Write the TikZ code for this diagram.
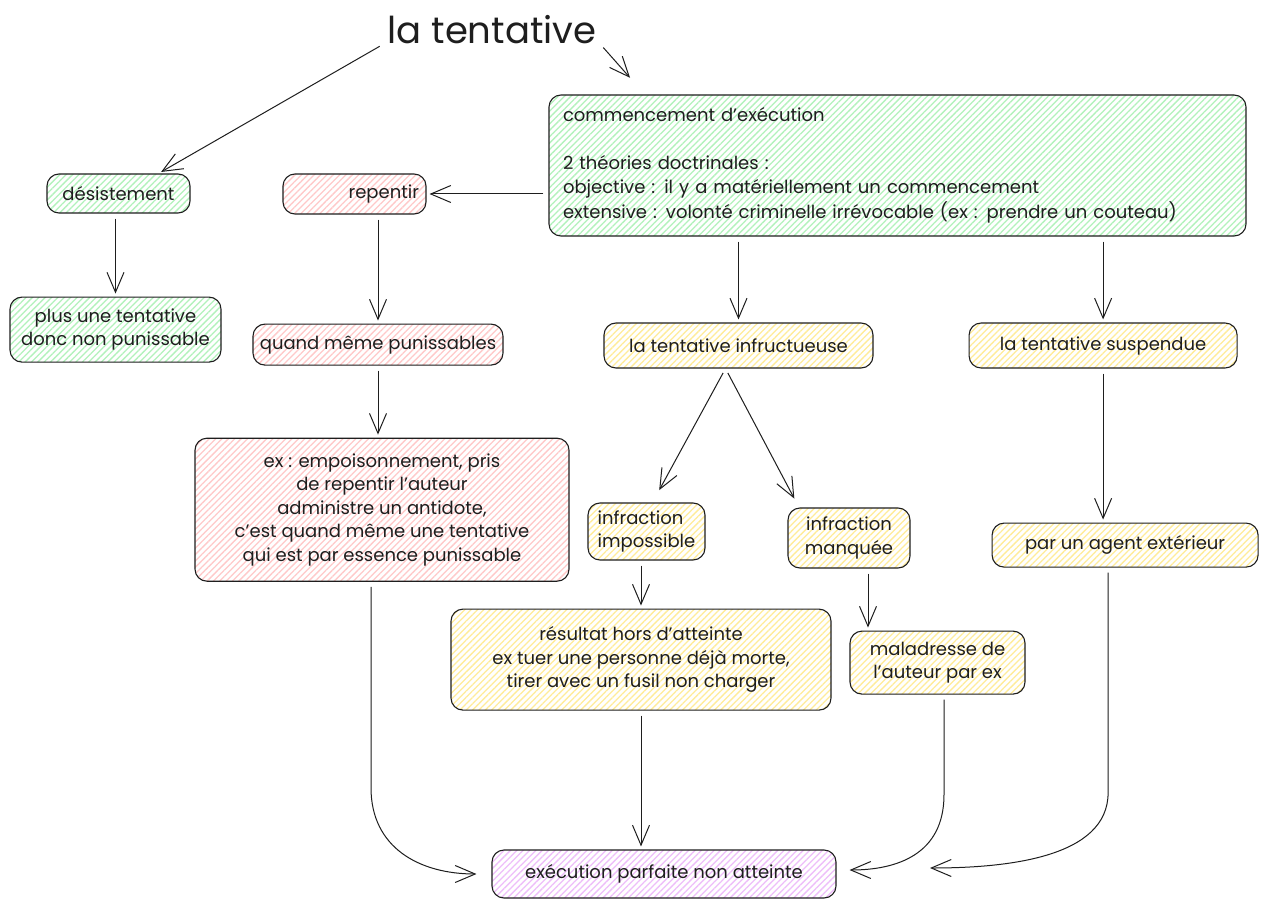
\documentclass[tikz,border=0pt]{standalone}
\usepackage{fontspec}
\setmainfont{Poppins}
\usetikzlibrary{arrows.meta,positioning,patterns.meta}
\tikzset{>/.tip={Straight Barb[length=20pt,width=17pt,line width=1pt]}}
\definecolor{grn}{HTML}{B2F2BB}
\definecolor{pnk}{HTML}{FFC9C9}
\definecolor{ylw}{HTML}{FFEC99}
\definecolor{prp}{HTML}{EEBEFA}
\definecolor{ink}{HTML}{1E1E1E}
\tikzset{box/.style={draw=ink,line width=1.1pt,rounded corners=12pt,
    pattern={Lines[angle=45,distance=4.5pt,line width=1.3pt]},pattern color=#1,
    inner sep=6pt,align=center}}
\tikzset{link/.style={->,line width=1pt,draw=ink,shorten <=5pt,shorten >=3pt}}

\begin{document}
\begin{tikzpicture}[x=1pt,y=-1pt,font=\fontsize{18}{23.5}\selectfont,text=ink]
      \fill[white] (0,0) rectangle (1268,909);
      \useasboundingbox (0,0) rectangle (1268,909);

      \node[font=\fontsize{37}{42}\selectfont](title) at (492,30){la tentative};
      \node[box=grn,minimum width=697pt,minimum height=141pt,text width=669pt,align=left](debut) at (897.5,165.5)
        {commencement d'exécution\\[24pt]
         2 théories doctrinales :\\[1pt]
         objective : il y a matériellement un commencement\\[1pt]
         extensive : volonté criminelle irrévocable (ex : prendre un couteau)};

      \node[box=grn,minimum width=143pt,minimum height=39pt](desist) at (118.5,193.5){désistement};
      \node[box=grn,minimum width=211pt,minimum height=65pt,below=83pt of desist,xshift=-3pt](plus)
        {plus une tentative\\donc non punissable};

      \node[box=pnk,minimum width=143pt,minimum height=40pt,text width=129pt,align=right](repent) at (354.5,194){repentir};
      \node[box=pnk,minimum width=250pt,minimum height=41pt,below=109pt of repent,xshift=23.5pt](quand){quand même punissables};
      \node[box=pnk,minimum width=374pt,minimum height=143pt,below=72pt of quand,xshift=4pt](exemp)
        {ex : empoisonnement, pris\\de repentir l'auteur\\administre un antidote,\\c'est quand même une tentative\\qui est par essence punissable};

      \node[box=ylw,minimum width=269pt,minimum height=45pt](infruct) at (738.5,345.5){la tentative infructueuse};
      \node[box=ylw,minimum width=268pt,minimum height=45pt,right=95pt of infruct](susp){la tentative suspendue};
      \node[box=ylw,minimum width=266pt,minimum height=44pt,below=154pt of susp,xshift=22pt](agent){par un agent extérieur};

      \node[box=ylw,minimum width=117pt,minimum height=57pt,align=left](imposs) at (646.5,531.5){infraction\\impossible};
      \node[box=ylw,minimum width=122pt,minimum height=60pt](manq) at (849,538){infraction\\manquée};
      \node[box=ylw,minimum width=380pt,minimum height=101pt,below=48pt of imposs,xshift=-5.5pt](result)
        {résultat hors d'atteinte\\ex tuer une personne déjà morte,\\tirer avec un fusil non charger};
      \node[box=ylw,minimum width=175pt,minimum height=63pt,below=62pt of manq,xshift=88.5pt](malad)
        {maladresse de\\l'auteur par ex};

      \node[box=prp,minimum width=344pt,minimum height=48pt](exec) at (664,874){exécution parfaite non atteinte};

      \coordinate (tipB) at (632,80);
      \coordinate (tipA) at (927,868);

      \draw[link] ([yshift=4pt]title.south west) -- ([xshift=40pt]desist.north);
      \draw[link] ([yshift=4pt]title.south east) -- (tipB);
      \draw[link] (debut.west |- repent.east) -- (repent.east);
      \draw[link] (plus.north |- desist.south) -- (plus.north);
      \draw[link] (quand.north |- repent.south) -- (quand.north);
      \draw[link] (quand.south) -- (quand.south |- exemp.north);
      \draw[link] (debut.south -| infruct.north) -- (infruct.north);
      \draw[link] (debut.south -| susp.north) -- (susp.north);
      \draw[link,shorten >=14pt] ([xshift=-13pt]infruct.south) -- ([xshift=6pt]imposs.north);
      \draw[link,shorten >=10pt] ([xshift=-13pt]infruct.south) -- ([xshift=-50pt]manq.north);
      \draw[link] (result.north |- imposs.south) -- (result.north);
      \draw[link] ([xshift=19pt]manq.south) -- ([xshift=-69.5pt]malad.north);
      \draw[link] (susp.south) -- (susp.south |- agent.north);
      \draw[link] (result.south) -- (result.south |- exec.north);

      % curved ones into the bottom box
      \draw[link] ([xshift=-11pt]exemp.south) -- ++(0,206) .. controls +(0,60) and +(-60,0) .. ([xshift=-12pt]exec.west);
      \draw[link] ([xshift=6.5pt]malad.south) -- ++(0,100) .. controls +(0,60) and +(50,0) .. ([xshift=10pt,yshift=4pt]exec.east);
      \draw[link] ([xshift=-17pt]agent.south) -- ++(0,225) .. controls +(0,65) and +(80,0) .. (tipA);
\end{tikzpicture}
\end{document}
